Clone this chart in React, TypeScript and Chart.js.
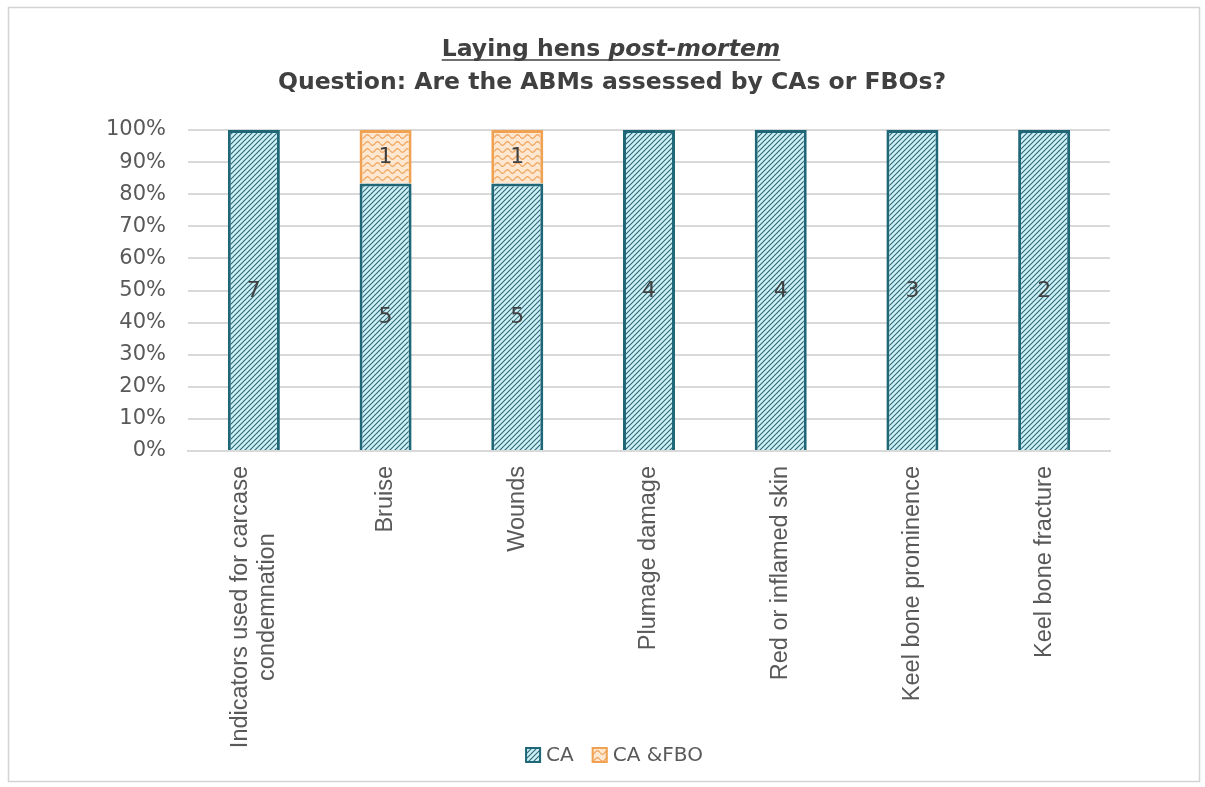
import React, { useEffect, useRef } from 'react';
import { Chart, registerables } from 'chart.js';

Chart.register(...registerables);

// Categories (ABMs) along the x axis
const categories: string[][] = [
  ['Indicators used for carcase', 'condemnation'],
  ['Bruise'],
  ['Wounds'],
  ['Plumage damage'],
  ['Red or inflamed skin'],
  ['Keel bone prominence'],
  ['Keel bone fracture'],
];

// Number of answers per category
const caCounts = [7, 5, 5, 4, 4, 3, 2];
const caFboCounts = [0, 1, 1, 0, 0, 0, 0];

const seriesNames = ['CA', 'CA &FBO'];
const yTickValues = [0, 10, 20, 30, 40, 50, 60, 70, 80, 90, 100];

const W = 1205;
const H = 787;
const PLOT_LEFT = 188;
const PLOT_RIGHT = 1110;
const PLOT_TOP = 130;
const PLOT_BOTTOM = 451;

const TEXT_DARK = '#404040';
const TEXT_GREY = '#595959';
const GRID = '#d9d9d9';
const CA_BORDER = '#1f6677';
const FBO_BORDER = '#f0a152';

function makeHatch(): CanvasPattern | string {
  const s = 5;
  const c = document.createElement('canvas');
  c.width = s;
  c.height = s;
  const g = c.getContext('2d');
  if (!g) return '#9fd3dd';
  g.fillStyle = '#cdf1f7';
  g.fillRect(0, 0, s, s);
  g.strokeStyle = '#2f6676';
  g.lineWidth = 1.1;
  g.beginPath();
  g.moveTo(-1, s + 1);
  g.lineTo(s + 1, -1);
  g.moveTo(-1, 1);
  g.lineTo(1, -1);
  g.moveTo(s - 1, s + 1);
  g.lineTo(s + 1, s - 1);
  g.stroke();
  const p = g.createPattern(c, 'repeat');
  return p || '#9fd3dd';
}

function makeWave(): CanvasPattern | string {
  const w = 10;
  const h = 7;
  const c = document.createElement('canvas');
  c.width = w;
  c.height = h;
  const g = c.getContext('2d');
  if (!g) return '#f8d3ad';
  g.fillStyle = '#fde7d0';
  g.fillRect(0, 0, w, h);
  g.strokeStyle = '#f0a45a';
  g.lineWidth = 1.2;
  g.beginPath();
  for (let x = 0; x <= w; x += 0.5) {
    const y = 3.5 + 1.8 * Math.sin((x / w) * Math.PI * 2);
    if (x === 0) g.moveTo(x, y);
    else g.lineTo(x, y);
  }
  g.stroke();
  const p = g.createPattern(c, 'repeat');
  return p || '#f8d3ad';
}

export default function App() {
  const ref = useRef<HTMLCanvasElement | null>(null);

  useEffect(() => {
    const canvas = ref.current;
    if (!canvas) return;

    const totals = caCounts.map((v, i) => v + caFboCounts[i]);
    const caPct = caCounts.map((v, i) => (v / totals[i]) * 100);
    const fboPct = caFboCounts.map((v, i) => (v / totals[i]) * 100);
    const seriesCounts = [caCounts, caFboCounts];

    const hatch = makeHatch();
    const wave = makeWave();

    const framePlugin = {
      id: 'frame',
      beforeDraw(chart: any) {
        const ctx = chart.ctx;
        ctx.save();
        ctx.fillStyle = '#ffffff';
        ctx.fillRect(0, 0, W, H);
        ctx.strokeStyle = '#d4d4d4';
        ctx.lineWidth = 1.5;
        ctx.strokeRect(8.5, 7.5, 1191, 774);
        ctx.restore();
      },
    };

    const titlePlugin = {
      id: 'twoLineTitle',
      afterDraw(chart: any) {
        const ctx = chart.ctx;
        ctx.save();
        ctx.fillStyle = TEXT_DARK;
        ctx.strokeStyle = TEXT_DARK;
        ctx.textBaseline = 'alphabetic';
        ctx.textAlign = 'left';
        const fam = '"DejaVu Sans", Verdana, sans-serif';
        const normal = `bold 23.5px ${fam}`;
        const italic = `italic bold 23.5px ${fam}`;
        const a = 'Laying hens ';
        const b = 'post-mortem';
        ctx.font = normal;
        const wa = ctx.measureText(a).width;
        ctx.font = italic;
        const wb = ctx.measureText(b).width;
        const cx = 611;
        const x0 = cx - (wa + wb) / 2;
        const base1 = 56;
        ctx.font = normal;
        ctx.fillText(a, x0, base1);
        ctx.font = italic;
        ctx.fillText(b, x0 + wa, base1);
        ctx.lineWidth = 1.6;
        ctx.beginPath();
        ctx.moveTo(x0, base1 + 4);
        ctx.lineTo(x0 + wa + wb, base1 + 4);
        ctx.stroke();
        ctx.font = normal;
        ctx.textAlign = 'center';
        ctx.fillText('Question: Are the ABMs assessed by CAs or FBOs?', 612, 89);
        ctx.restore();
      },
    };

    const xLabelPlugin = {
      id: 'rotatedCategoryLabels',
      afterDraw(chart: any) {
        const ctx = chart.ctx;
        const xs = chart.scales.x;
        const labels = chart.data.labels as string[][];
        ctx.save();
        ctx.fillStyle = TEXT_GREY;
        ctx.font = '23.5px "Liberation Sans", Arial, sans-serif';
        ctx.textAlign = 'center';
        ctx.textBaseline = 'middle';
        const lineH = 27;
        labels.forEach((lines, i) => {
          const x = xs.getPixelForTick(i);
          const top = chart.chartArea.bottom + 15;
          const maxW = Math.max(...lines.map((l) => ctx.measureText(l).width));
          ctx.save();
          ctx.translate(x, top);
          ctx.rotate(-Math.PI / 2);
          lines.forEach((l, k) => {
            const off = (k - (lines.length - 1) / 2) * lineH;
            ctx.fillText(l, -maxW / 2, off);
          });
          ctx.restore();
        });
        ctx.restore();
      },
    };

    const valueLabelPlugin = {
      id: 'countLabels',
      afterDatasetsDraw(chart: any) {
        const ctx = chart.ctx;
        ctx.save();
        ctx.fillStyle = TEXT_DARK;
        ctx.font = '22px "DejaVu Sans", Verdana, sans-serif';
        ctx.textAlign = 'center';
        ctx.textBaseline = 'middle';
        chart.data.datasets.forEach((_: any, di: number) => {
          const meta = chart.getDatasetMeta(di);
          meta.data.forEach((bar: any, j: number) => {
            const n = seriesCounts[di][j];
            if (!n) return;
            ctx.fillText(String(n), bar.x, (bar.y + bar.base) / 2 + 1);
          });
        });
        ctx.restore();
      },
    };

    const legendPlugin = {
      id: 'bottomLegend',
      afterDraw(chart: any) {
        const ctx = chart.ctx;
        ctx.save();
        ctx.font = '20px "DejaVu Sans", Verdana, sans-serif';
        ctx.textBaseline = 'middle';
        ctx.textAlign = 'left';
        const box = 16;
        const gap = 5;
        const between = 18;
        const ds = chart.data.datasets;
        const widths = ds.map((d: any) => box + gap + ctx.measureText(d.label).width);
        const total = widths.reduce((a: number, b: number) => a + b, 0) + between * (ds.length - 1);
        let x = 614 - total / 2;
        const cy = 755;
        ds.forEach((d: any, i: number) => {
          ctx.fillStyle = d.backgroundColor;
          ctx.fillRect(x, cy - box / 2, box, box);
          ctx.strokeStyle = d.borderColor;
          ctx.lineWidth = 2;
          ctx.strokeRect(x + 1, cy - box / 2 + 1, box - 2, box - 2);
          ctx.fillStyle = TEXT_GREY;
          ctx.fillText(d.label, x + box + gap, cy + 1);
          x += widths[i] + between;
        });
        ctx.restore();
      },
    };

    const chart = new Chart(canvas, {
      type: 'bar',
      data: {
        labels: categories,
        datasets: [
          {
            label: seriesNames[0],
            data: caPct,
            backgroundColor: hatch as any,
            borderColor: CA_BORDER,
            borderWidth: 3,
          },
          {
            label: seriesNames[1],
            data: fboPct,
            backgroundColor: wave as any,
            borderColor: FBO_BORDER,
            borderWidth: 3,
          },
        ],
      },
      options: {
        responsive: false,
        animation: false,
        layout: { padding: { top: PLOT_TOP, right: W - PLOT_RIGHT, bottom: 0, left: 0 } },
        datasets: { bar: { barPercentage: 0.395, categoryPercentage: 1 } },
        plugins: {
          legend: { display: false },
          title: { display: false },
          tooltip: { enabled: false },
        },
        scales: {
          x: {
            stacked: true,
            grid: { display: false, drawTicks: false },
            border: { display: true, color: GRID, width: 2 },
            ticks: { display: false },
            afterFit: (s: any) => {
              s.height = H - PLOT_BOTTOM;
            },
          },
          y: {
            stacked: true,
            min: 0,
            max: 100,
            afterBuildTicks: (s: any) => {
              s.ticks = yTickValues.map((v) => ({ value: v }));
            },
            ticks: {
              callback: (v: any) => `${v}%`,
              color: TEXT_GREY,
              font: { family: '"DejaVu Sans", Verdana, sans-serif', size: 21 },
              padding: 22,
            },
            grid: { color: GRID, lineWidth: 2, drawTicks: false },
            border: { display: false },
            afterFit: (s: any) => {
              s.width = PLOT_LEFT;
            },
          },
        },
      },
      plugins: [framePlugin, titlePlugin, xLabelPlugin, valueLabelPlugin, legendPlugin],
    });

    return () => chart.destroy();
  }, []);

  return (
    <div style={{ position: 'fixed', left: 0, top: 0, width: W, height: H, background: '#fff' }}>
      <canvas ref={ref} width={W} height={H} style={{ width: W, height: H, display: 'block' }} />
    </div>
  );
}
